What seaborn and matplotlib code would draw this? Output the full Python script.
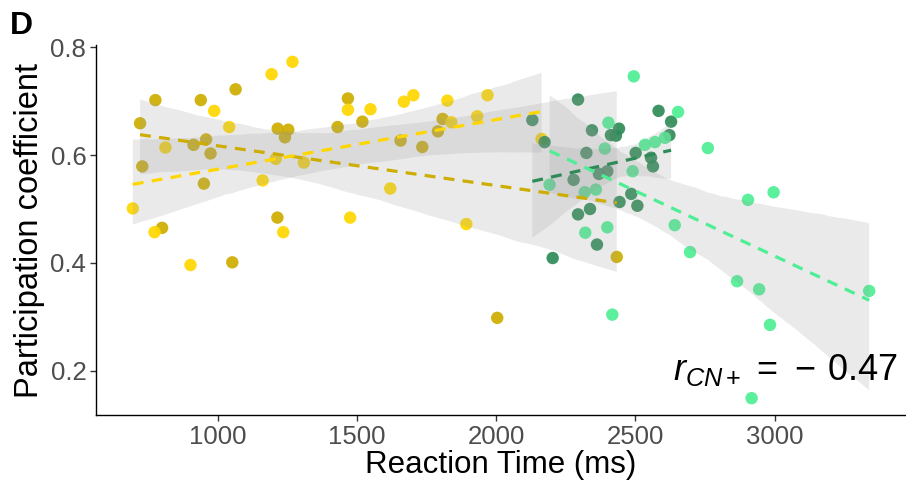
import numpy as np
import pandas as pd
import matplotlib
matplotlib.use("Agg")
import matplotlib.pyplot as plt
import seaborn as sns

# ---------------- data ----------------
group_names = ["Fast CN-", "Fast CN+", "Slow CN-", "Slow CN+"]
group_colors = ["#CDAD00", "#FFD700", "#2E8B57", "#4EEE94"]

rt_fast_cnm = [777, 940, 1065, 722, 914, 959, 975, 730, 951, 1216, 1254, 1242,
               1468, 1431, 1520, 1215, 801, 1053, 1808, 1791, 1657, 1735, 2433, 2004]
pc_fast_cnm = [0.702, 0.702, 0.722, 0.659, 0.619, 0.629, 0.603, 0.579, 0.547, 0.649, 0.647, 0.633,
               0.705, 0.652, 0.662, 0.484, 0.465, 0.401, 0.667, 0.644, 0.627, 0.615, 0.411, 0.298]

rt_fast_cnp = [1194, 1269, 988, 1042, 813, 1162, 1209, 1310, 1468, 1549, 696, 1476,
               774, 1236, 903, 1669, 1703, 1825, 1969, 1839, 1932, 1620, 1893, 2163]
pc_fast_cnp = [0.750, 0.773, 0.682, 0.652, 0.614, 0.553, 0.593, 0.586, 0.684, 0.685, 0.501, 0.484,
               0.457, 0.457, 0.396, 0.699, 0.711, 0.701, 0.711, 0.661, 0.672, 0.538, 0.472, 0.630]

rt_slow_cnm = [2130, 2174, 2294, 2344, 2441, 2412, 2430, 2324, 2501, 2369, 2399, 2278,
               2443, 2485, 2507, 2337, 2294, 2362, 2203, 2583, 2628, 2622, 2556, 2563]
pc_slow_cnm = [0.665, 0.624, 0.703, 0.646, 0.649, 0.637, 0.636, 0.604, 0.604, 0.565, 0.570, 0.554,
               0.513, 0.528, 0.506, 0.500, 0.490, 0.434, 0.409, 0.682, 0.662, 0.637, 0.595, 0.579]

rt_slow_cnp = [2494, 2403, 2390, 2490, 2192, 2318, 2358, 2399, 2320, 2417, 2653, 2606,
               2570, 2534, 2760, 2904, 2996, 2641, 2696, 2865, 2944, 2983, 3339, 2917]
pc_slow_cnp = [0.746, 0.660, 0.612, 0.570, 0.545, 0.531, 0.536, 0.466, 0.456, 0.304, 0.680, 0.632,
               0.624, 0.619, 0.613, 0.517, 0.531, 0.470, 0.420, 0.366, 0.351, 0.285, 0.348, 0.149]

x_ticks = [1000, 1500, 2000, 2500, 3000]
y_ticks = [0.2, 0.4, 0.6, 0.8]
x_label = "Reaction Time (ms)"
y_label = "Participation coefficient"
annotation = r"$r_{CN+}\,=\,-\,0.47$"
panel_label = "D"

# ---------------- frame ----------------
rts = [rt_fast_cnm, rt_fast_cnp, rt_slow_cnm, rt_slow_cnp]
pcs = [pc_fast_cnm, pc_fast_cnp, pc_slow_cnm, pc_slow_cnp]
df = pd.concat(
    [pd.DataFrame({"rt": r, "pc": p, "group": g}) for r, p, g in zip(rts, pcs, group_names)],
    ignore_index=True,
)

# ---------------- style ----------------
sns.set_theme(style="ticks")
plt.rcParams["font.family"] = ["Liberation Sans", "DejaVu Sans"]
plt.rcParams["mathtext.fontset"] = "custom"
plt.rcParams["mathtext.rm"] = "Liberation Sans"
plt.rcParams["mathtext.it"] = "Liberation Sans:italic"

fig = plt.figure(figsize=(9.06, 4.82), dpi=100)
ax = fig.add_axes([96 / 906, 67 / 482, 810 / 906, 370 / 482])

palette = dict(zip(group_names, group_colors))
sns.scatterplot(data=df, x="rt", y="pc", hue="group", palette=palette,
                s=80, linewidth=0, alpha=0.92, legend=False, ax=ax, zorder=2)

for g, c in zip(group_names, group_colors):
    sub = df[df["group"] == g]
    n_before = len(ax.collections)
    sns.regplot(data=sub, x="rt", y="pc", scatter=False, ci=95, n_boot=1000, seed=1,
                color=c, ax=ax,
                line_kws=dict(linestyle=(0, (3.4, 2.6)), linewidth=2.3, zorder=4))
    for coll in ax.collections[n_before:]:
        coll.set_facecolor("#9a9a9a")
        coll.set_alpha(0.2)
        coll.set_zorder(3)
        coll.set_edgecolor("none")

# axes limits like ggplot expansion
xmin, xmax = df["rt"].min(), df["rt"].max()
ymin, ymax = df["pc"].min(), df["pc"].max()
xr, yr = xmax - xmin, ymax - ymin
ax.set_xlim(xmin - 0.05 * xr, xmax + 0.05 * xr)
ax.set_ylim(ymin - 0.05 * yr, ymax + 0.05 * yr)

ax.set_xticks(x_ticks)
ax.set_yticks(y_ticks)
ax.set_xticklabels([str(t) for t in x_ticks])
ax.set_yticklabels([f"{t:.1f}" for t in y_ticks])
ax.tick_params(axis="both", labelsize=18.5, labelcolor="#4D4D4D", color="#333333",
               length=4, width=1, pad=3)
for sp in ["top", "right"]:
    ax.spines[sp].set_visible(False)
for sp in ["left", "bottom"]:
    ax.spines[sp].set_color("black")
    ax.spines[sp].set_linewidth(1.0)

ax.set_xlabel(x_label, fontsize=22.5, color="black", labelpad=1)
ax.set_ylabel(y_label, fontsize=23.5, color="black", labelpad=4)

ax.text(0.989, 0.095, annotation, transform=ax.transAxes, ha="right", va="baseline",
        fontsize=26, color="black")
fig.text(10 / 906, 1 - 34 / 482, panel_label, fontsize=23, fontweight="bold",
         color="black", ha="left", va="baseline")

fig.savefig("out.png", dpi=100)
